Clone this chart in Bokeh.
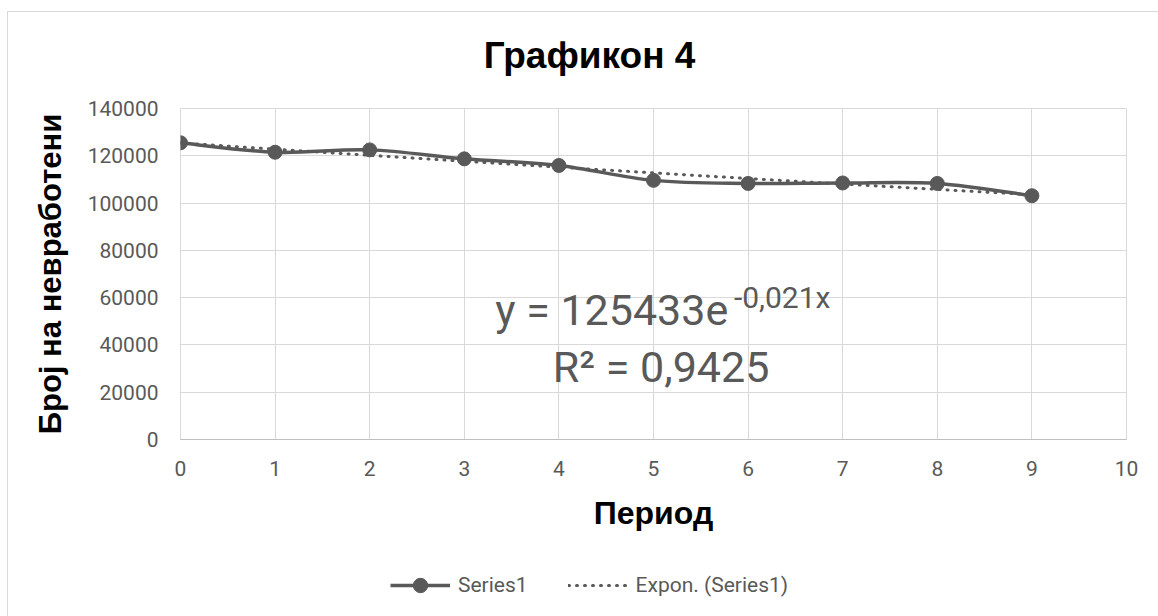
import numpy as np
from bokeh.plotting import figure
from bokeh.layouts import column
from bokeh.models import (Range1d, FixedTicker, NumeralTickFormatter, Legend, LegendItem,
                          Label, ColumnDataSource)
from bokeh.embed import file_html
from bokeh.resources import INLINE

# ---- data ----
period = [0, 1, 2, 3, 4, 5, 6, 7, 8, 9]
unemployed = [125500, 121500, 122500, 118700, 115900, 109600, 108300, 108500, 108300, 103100]
x_ticks = [0, 1, 2, 3, 4, 5, 6, 7, 8, 9, 10]
y_ticks = [0, 20000, 40000, 60000, 80000, 100000, 120000, 140000]
title_text = "Графикон 4"
x_label = "Период"
y_label = "Број на невработени"
series_name = "Series1"
trend_name = "Expon. (Series1)"
eq_main = "y = 125433e"
eq_sup = "-0,021x"
eq_r2 = "R² = 0,9425"

GREY = "#595959"
GRID = "#d9d9d9"

# Exponential trendline fitted to the data (least squares on log, as the spreadsheet does)
xa = np.array(period, dtype=float)
ya = np.array(unemployed, dtype=float)
b_fit, ln_a = np.polyfit(xa, np.log(ya), 1)
trend_y = np.exp(ln_a) * np.exp(b_fit * xa)

# Smoothed line: Catmull-Rom segments expressed as cubic Bezier glyphs
n = len(xa)
px = np.concatenate([[xa[0]], xa, [xa[-1]]])
py = np.concatenate([[ya[0]], ya, [ya[-1]]])
seg = dict(x0=[], y0=[], x1=[], y1=[], cx0=[], cy0=[], cx1=[], cy1=[])
for i in range(n - 1):
    p0x, p0y = px[i], py[i]
    p1x, p1y = px[i + 1], py[i + 1]
    p2x, p2y = px[i + 2], py[i + 2]
    p3x, p3y = px[i + 3], py[i + 3]
    seg["x0"].append(p1x); seg["y0"].append(p1y)
    seg["x1"].append(p2x); seg["y1"].append(p2y)
    seg["cx0"].append(p1x + (p2x - p0x) / 6); seg["cy0"].append(p1y + (p2y - p0y) / 6)
    seg["cx1"].append(p2x - (p3x - p1x) / 6); seg["cy1"].append(p2y - (p3y - p1y) / 6)

FIG_W = 1150
FRAME_W = 946
TOP_H = 84
MAIN_H = 464
LEG_H = 56

trend_style = dict(line_color=GREY, line_width=3, line_dash="1 7", line_cap="round")
line_style = dict(line_color=GREY, line_width=3.5)
marker_style = dict(size=14, marker="circle", fill_color=GREY, line_color=GREY)


def strip(height):
    f = figure(width=FIG_W, height=height, output_backend="svg", toolbar_location=None,
               x_range=Range1d(0, FRAME_W), y_range=Range1d(0, height),
               min_border=0, outline_line_color=None)
    f.axis.visible = False
    f.grid.visible = False
    f.background_fill_color = "white"
    f.border_fill_color = "white"
    return f


# ---- title strip ----
tf = strip(TOP_H)
tf.add_layout(Label(x=409, y=41, text=title_text, text_align="center", text_baseline="middle",
                    text_font="Liberation Sans", text_font_style="bold", text_font_size="37px",
                    text_color="black"))

# ---- main chart ----
p = figure(width=FIG_W, height=MAIN_H, output_backend="svg", toolbar_location=None,
           x_range=Range1d(0, 10), y_range=Range1d(0, 140000),
           min_border_left=172, min_border_right=32, min_border_top=12, min_border_bottom=121)
p.background_fill_color = "white"
p.border_fill_color = "white"
p.outline_line_color = GRID

p.xaxis.ticker = FixedTicker(ticks=x_ticks)
p.yaxis.ticker = FixedTicker(ticks=y_ticks)
p.yaxis.formatter = NumeralTickFormatter(format="0")
for ax in (p.xaxis[0], p.yaxis[0]):
    ax.major_tick_line_color = None
    ax.minor_tick_line_color = None
    ax.major_tick_out = 0
    ax.major_label_text_font = "Roboto"
    ax.major_label_text_font_size = "21px"
    ax.major_label_text_color = GREY
    ax.axis_label_text_font = "Liberation Sans"
    ax.axis_label_text_font_style = "bold"
    ax.axis_label_text_color = "black"
p.xaxis.axis_label_text_font_size = "32px"
p.yaxis.axis_label_text_font_size = "31px"
p.xaxis.axis_line_color = "#bfbfbf"
p.yaxis.axis_line_color = None
p.xaxis.axis_label = x_label
p.yaxis.axis_label = y_label
p.xaxis.major_label_standoff = 21
p.xaxis.axis_label_standoff = 16
p.yaxis.major_label_standoff = 22
p.yaxis.axis_label_standoff = 17

p.xgrid.ticker = FixedTicker(ticks=x_ticks)
p.ygrid.ticker = FixedTicker(ticks=y_ticks)
p.xgrid.grid_line_color = GRID
p.ygrid.grid_line_color = GRID

p.line(xa, trend_y, **trend_style)
p.bezier(source=ColumnDataSource(seg), x0="x0", y0="y0", x1="x1", y1="y1",
         cx0="cx0", cy0="cy0", cx1="cx1", cy1="cy1", **line_style)
p.scatter(period, unemployed, **marker_style)

lab_common = dict(text_font="Roboto", text_color=GREY)
p.add_layout(Label(x=5.79, y=54600, text=eq_main, text_align="right", text_baseline="alphabetic",
                   text_font_size="43px", **lab_common))
p.add_layout(Label(x=5.85, y=60000, text=eq_sup, text_align="left", text_baseline="alphabetic",
                   text_font_size="30px", **lab_common))
p.add_layout(Label(x=5.08, y=30600, text=eq_r2, text_align="center", text_baseline="alphabetic",
                   text_font_size="43px", **lab_common))

# ---- legend strip (proxies share the series data but lie outside this strip's view) ----
lf = strip(LEG_H)
l_line = lf.line(period, unemployed, **line_style)
l_pts = lf.scatter(period, unemployed, **marker_style)
l_trend = lf.line(xa, trend_y, **trend_style)
legend = Legend(items=[LegendItem(label=series_name, renderers=[l_line, l_pts]),
                       LegendItem(label=trend_name, renderers=[l_trend])],
                orientation="horizontal", location=(210, 13),
                label_text_font="Roboto", label_text_font_size="21px", label_text_color=GREY,
                glyph_width=60, glyph_height=36, label_standoff=8, spacing=40,
                padding=5, margin=0, border_line_color=None, background_fill_alpha=0)
lf.add_layout(legend, "center")

layout = column(tf, p, lf, spacing=0)
layout.styles = {"border-left": "1px solid #d9d9d9", "border-top": "1px solid #d9d9d9",
                 "margin-left": "7px", "margin-top": "11px"}

open("out.html", "w").write(file_html(layout, INLINE))
